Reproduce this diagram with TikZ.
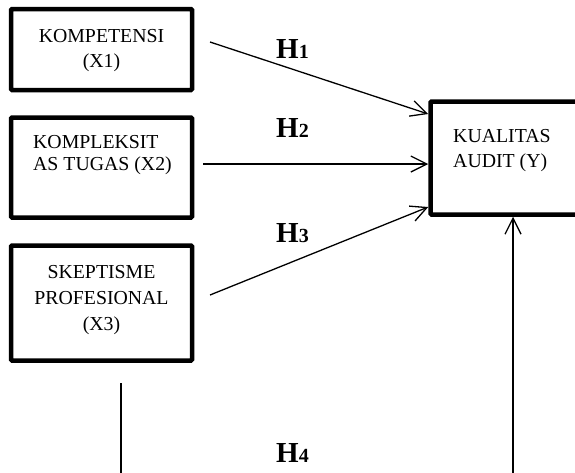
\documentclass[tikz,border=0pt]{standalone}
\usepackage{fontspec}
\setmainfont{Liberation Serif}
\usetikzlibrary{arrows.meta}
\tikzset{
  varbox/.style={draw, line width=4.5pt, rounded corners=1pt, inner sep=0pt, minimum width=181pt},
  lbl/.style={inner sep=0pt, font=\fontsize{19.8}{24}\selectfont},
  hlab/.style={inner sep=0pt, anchor=base west},
  conn/.style={line width=1.3pt},
  arr/.style={conn, -{Straight Barb[length=16pt,width=16pt,line width=1.3pt]}}
}
\newcommand{\hyp}[1]{{\fontsize{29}{29}\selectfont\bfseries H}{\fontsize{20}{20}\selectfont\bfseries #1}}
\begin{document}
\begin{tikzpicture}[x=1pt,y=-1pt]
\useasboundingbox (0,0) rectangle (575,472);
\clip (0,0) rectangle (575,472);
% boxes
\node[varbox, minimum height=81pt] (x1) at (101.5,49.5) {};
\node[varbox, minimum height=100pt] (x2) at (101.5,167.5) {};
\node[varbox, minimum height=115pt] (x3) at (101.5,303) {};
\node[varbox, minimum width=200pt, minimum height=113pt] (y) at (530.5,158) {};
% texts
\node[lbl, anchor=base] (t1a) at (101.5,42) {KOMPETENSI};
\node[lbl, anchor=base] (t1b) at (101.5,67) {(X1)};
\node[lbl, anchor=base west] (t2a) at (33,148) {KOMPLEKSIT};
\node[lbl, anchor=base west] (t2b) at (33,170) {AS TUGAS (X2)};
\node[lbl, anchor=base] (t3a) at (101.5,278) {SKEPTISME};
\node[lbl, anchor=base] (t3b) at (101.5,304) {PROFESIONAL};
\node[lbl, anchor=base] (t3c) at (101.5,330) {(X3)};
\node[lbl, anchor=base west] (tya) at (453,142) {KUALITAS};
\node[lbl, anchor=base west] (tyb) at (453,167) {AUDIT (Y)};
% hypothesis labels
\node[hlab] (h1) at (276,58) {\hyp{1}};
\node[hlab] (h2) at (276,137) {\hyp{2}};
\node[hlab] (h3) at (276,242) {\hyp{3}};
\node[hlab] (h4) at (276,462) {\hyp{4}};
% connectors
\coordinate (s1) at (210,42);
\coordinate (s2) at (203,164);
\coordinate (s3) at (210,295);
\draw[arr] (s1) -- (y.west |- 0,114);
\draw[arr] (s2) -- (y.west |- s2);
\draw[arr] (s3) -- (y.west |- 0,207);
\coordinate (l4a) at (121,383);
\coordinate (l4b) at (121,480);
\coordinate (r4) at (513,480);
\draw[conn] (l4a) -- (l4b);
\draw[arr] (r4) -- (r4 |- y.south);
\end{tikzpicture}
\end{document}
